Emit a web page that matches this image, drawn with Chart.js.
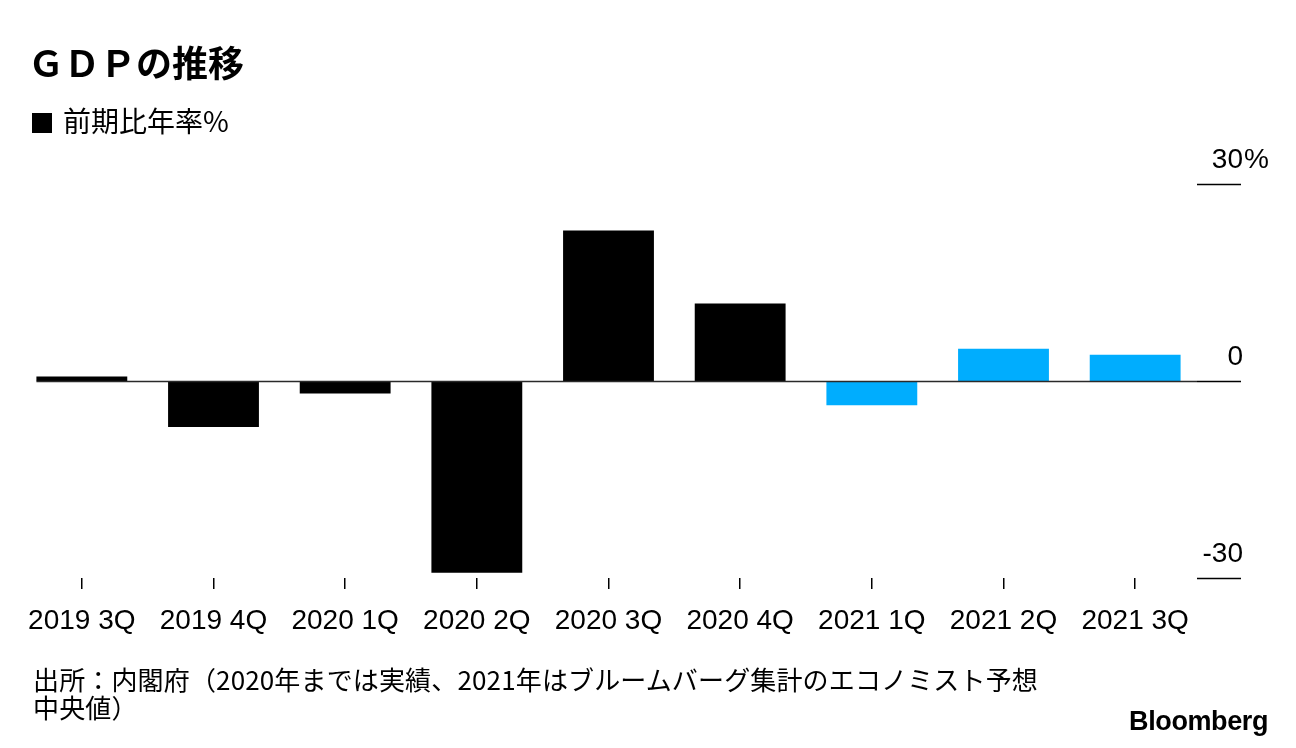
<!DOCTYPE html>
<html>
<head>
<meta charset="utf-8">
<script src="https://cdn.jsdelivr.net/npm/chart.js@4"></script>
<style>
  html, body { margin:0; padding:0; background:#fff; }
  body { width:1296px; height:748px; position:relative; overflow:hidden; font-family:"Noto Sans CJK JP","Liberation Sans",sans-serif; color:#000; }
  #c { position:absolute; left:0; top:0; }
  .t { position:absolute; white-space:nowrap; line-height:1; }
  #title { left:28px; top:43px; font-size:36px; font-weight:700; }
  #legend { left:32px; top:106px; font-size:28px; }
  #legend .sq { display:inline-block; width:20px; height:20px; background:#000; margin-right:11px; vertical-align:-1px; }
  #source { left:33px; top:665px; font-size:26px; line-height:28px; letter-spacing:0.15px; }
  #logo { right:28px; top:708px; font-family:"Liberation Sans",Arial,sans-serif; font-weight:700; font-size:27px; letter-spacing:-0.4px; }
</style>
</head>
<body>
<canvas id="c" width="1296" height="748"></canvas>
<div class="t" id="title">ＧＤＰの推移</div>
<div class="t" id="legend"><span class="sq"></span>前期比年率%</div>
<div class="t" id="source">出所：内閣府（2020年までは実績、2021年はブルームバーグ集計のエコノミスト予想<br>中央値）</div>
<div class="t" id="logo">Bloomberg</div>
<script>
const categories = ["2019 3Q","2019 4Q","2020 1Q","2020 2Q","2020 3Q","2020 4Q","2021 1Q","2021 2Q","2021 3Q"];
const gdpValues  = [0.7, -7.0, -1.9, -29.2, 22.9, 11.8, -3.7, 4.9, 4.0];
const isForecast = [false,false,false,false,false,false,true,true,true];
const yTicks     = [30, 0, -30];
const yTickLabels = ["30", "0", "-30"];
const yUnit = "%";

const ACTUAL = "#000000";
const FORECAST = "#00adfe";

const decorPlugin = {
  id: "decor",
  afterDatasetsDraw(chart) {
    const ctx = chart.ctx;
    const y = chart.scales.y;
    const area = chart.chartArea;
    const meta = chart.getDatasetMeta(0);
    const first = meta.data[0];
    const startX = first.x - first.width / 2;
    ctx.save();
    const y0 = Math.round(y.getPixelForValue(0)) + 0.5;
    ctx.strokeStyle = "#2a2a2a";
    ctx.lineWidth = 1.6;
    ctx.beginPath();
    ctx.moveTo(startX, y0);
    ctx.lineTo(area.right - 4, y0);
    ctx.stroke();
    ctx.strokeStyle = "#000";
    ctx.fillStyle = "#000";
    ctx.font = '28px "Liberation Sans", Arial, sans-serif';
    ctx.textBaseline = "alphabetic";
    yTicks.forEach((v, i) => {
      const py = Math.round(y.getPixelForValue(v)) + 0.5;
      ctx.beginPath();
      ctx.moveTo(area.right - 4, py);
      ctx.lineTo(area.right + 40, py);
      ctx.stroke();
      const lx = area.right + 42;
      ctx.textAlign = "right";
      ctx.fillText(yTickLabels[i], lx, py - 17);
      if (i === 0) {
        ctx.textAlign = "left";
        ctx.fillText(yUnit, lx + 1, py - 17);
      }
    });
    ctx.restore();
  }
};

new Chart(document.getElementById("c"), {
  type: "bar",
  data: {
    labels: categories,
    datasets: [{
      data: gdpValues,
      backgroundColor: isForecast.map(f => f ? FORECAST : ACTUAL),
      borderWidth: 0,
      barPercentage: 0.69,
      categoryPercentage: 1.0
    }]
  },
  options: {
    responsive: false,
    animation: false,
    devicePixelRatio: 1,
    layout: { padding: { left: 16, right: 95, top: 184, bottom: 100 } },
    plugins: { legend: { display: false }, tooltip: { enabled: false }, title: { display: false } },
    scales: {
      x: {
        offset: true,
        border: { display: false },
        grid: { offset: false, drawOnChartArea: false, drawTicks: true, tickLength: 11, color: "#000", lineWidth: 1.5 },
        ticks: { color: "#000", padding: 15, maxRotation: 0, autoSkip: false,
                 font: { family: '"Liberation Sans", Arial, sans-serif', size: 28 } },
        afterFit(s) { s.height = 70; }
      },
      y: {
        display: false,
        min: -30, max: 30
      }
    }
  },
  plugins: [decorPlugin]
});
</script>
</body>
</html>
